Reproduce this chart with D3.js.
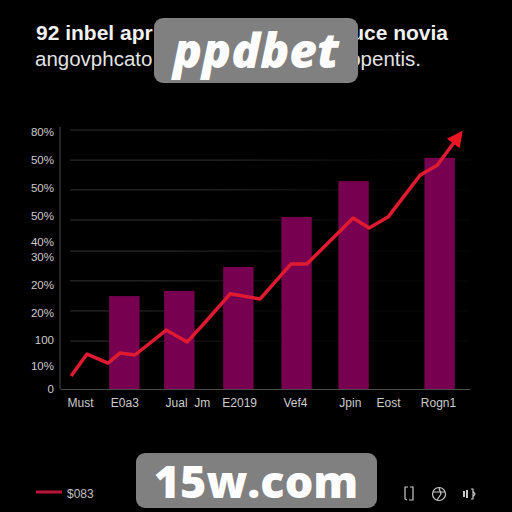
<!DOCTYPE html>
<html><head><meta charset="utf-8">
<script src="https://cdnjs.cloudflare.com/ajax/libs/d3/7.8.5/d3.min.js"></script>
<style>html,body{margin:0;padding:0;background:#000}svg{display:block}text{opacity:.99}</style></head>
<body><svg id="c" width="512" height="512"></svg>
<script>
// Data
const barValues = [28.7, 30.3, 37.7, 53.1, 64.2, 71.4];
const barSlots = [15.7, 29.1, 43.5, 57.7, 71.6, 92.6];
const gridValues = [14.8, 24.1, 33.4, 42.6, 52.2, 61.5, 70.7, 80];
const yTickValues = [0, 7.1, 15.1, 23.5, 32.1, 40.7, 45.4, 53.4, 62, 70.7, 79.4];
const yTickLabels = ["0", "10%", "100", "20%", "20%", "30%", "40%", "50%", "50%", "50%", "80%"];
const xTickValues = [4.9, 15.7, 28.3, 34.6, 43.7, 57.3, 70.7, 80, 92.2];
const xTickLabels = ["Must", "E0a3", "Jual", "Jm", "E2019", "Vef4", "Jpin", "Eost", "Rogn1"];
const lineX = [2.7, 6.6, 11.7, 14.6, 18.3, 25.9, 31, 35.9, 41.5, 48.8, 56.3, 60.2, 71.5, 75.4, 80, 87.8, 92, 96.2];
const lineY = [4, 10.8, 8, 11.1, 10.5, 18.2, 14.5, 21.3, 29.4, 27.8, 38.6, 38.6, 52.8, 49.7, 53.1, 66, 69.1, 76.3];
const legendLabel = "$083";
const titleLeft = "92 inbel apr", titleRight = "uce novia";
const subLeft = "angovphcato", subRight = "opentis.";
const badgeTop = "ppdbet", badgeBottom = "15w.com";

const svg = d3.select("#c");
const font = "'Liberation Sans', Arial, sans-serif";
const x = d3.scaleLinear().domain([0, 100]).range([60, 470]);
const y = d3.scaleLinear().domain([0, 80]).range([389, 130]);
svg.append("rect").attr("width", 512).attr("height", 512).attr("fill", "#000");

const defs = svg.append("defs");
const gr = defs.append("linearGradient").attr("id", "gf").attr("gradientUnits", "userSpaceOnUse")
  .attr("x1", 291).attr("y1", 47).attr("x2", 416).attr("y2", 130);
gr.append("stop").attr("offset", 0).attr("stop-color", "#333");
gr.append("stop").attr("offset", 1).attr("stop-color", "#080808");
const mk = defs.append("marker").attr("id", "arrow").attr("markerUnits", "userSpaceOnUse")
  .attr("markerWidth", 18).attr("markerHeight", 18).attr("refX", 2).attr("refY", 8).attr("orient", "auto").attr("viewBox","0 0 18 16");
mk.append("path").attr("d", "M0,0L16,8L0,16Z").attr("fill", "#ee1522");

// Grid
svg.append("g").selectAll("line").data(gridValues).join("line")
  .attr("x1", 70).attr("x2", x(100)).attr("y1", d => y(d)).attr("y2", d => y(d))
  .attr("stroke", "url(#gf)").attr("stroke-width", 1);

// Bars
svg.append("g").selectAll("rect").data(barValues).join("rect")
  .attr("x", (d, i) => x(barSlots[i]) - 15.2).attr("width", 30.4)
  .attr("y", d => y(d)).attr("height", d => y(0) - y(d)).attr("fill", "#780050");

// Axes
const ax = svg.append("g").attr("transform", `translate(0,${y(0)})`)
  .call(d3.axisBottom(x).tickValues(xTickValues).tickFormat((d, i) => xTickLabels[i]).tickSize(0).tickPadding(9));
ax.select(".domain").attr("stroke", "#4a4a4a");
ax.selectAll("text").attr("fill", "#cfcfcf").attr("font-family", font).attr("font-size", 12);
const ay = svg.append("g").attr("transform", `translate(${x(0)},0)`)
  .call(d3.axisLeft(y).tickValues(yTickValues).tickFormat((d, i) => yTickLabels[i]).tickSize(0).tickPadding(6));
ay.select(".domain").attr("stroke", "#4a4a4a").attr("d", `M0,${y(0)}V${y(81)}`);
ay.selectAll("text").attr("fill", "#cfcfcf").attr("font-family", font).attr("font-size", 11.5);

// Line
const line = d3.line().x(d => x(d[0])).y(d => y(d[1]));
svg.append("path").datum(lineX.map((v, i) => [v, lineY[i]])).attr("d", line)
  .attr("fill", "none").attr("stroke", "#e01a30").attr("stroke-width", 3.5)
  .attr("stroke-linejoin", "round").attr("marker-end", "url(#arrow)");

// Titles
const t = (s, px, py, size, w, anchor, fill) => svg.append("text").text(s).attr("x", px).attr("y", py)
  .attr("font-family", font).attr("font-size", size).attr("font-weight", w)
  .attr("text-anchor", anchor).attr("fill", fill);
t(titleLeft, 36, 40, 21, 700, "start", "#f4f4f4");
t(titleRight, 448, 40, 21, 700, "end", "#f4f4f4");
t(subLeft, 35, 66, 20.5, 400, "start", "#e6e6e6");
t(subRight, 421, 66, 20.5, 400, "end", "#e6e6e6");

// Legend
svg.append("line").attr("x1", 36).attr("x2", 62).attr("y1", 492).attr("y2", 492)
  .attr("stroke", "#b8163a").attr("stroke-width", 3);
t(legendLabel, 67, 497.5, 12, 400, "start", "#c4c4c4");

// Small icons
const ic = svg.append("g").attr("fill", "none").attr("stroke", "#c8c8c8").attr("stroke-width", 1.2);
ic.append("path").attr("d", "M408,487H405V499L407,500M410,487H413V500H409");
ic.append("circle").attr("cx", 439).attr("cy", 494).attr("r", 6.5);
ic.append("path").attr("d", "M433,492H445M439,488L441,494L437,500");
ic.append("path").attr("d", "M464,491V497M467,490V498").attr("stroke-width", 2);
ic.append("path").attr("d", "M471,489H473V499H471M473,491L475,494L473,497");

// Watermark badges
svg.append("rect").attr("x", 154).attr("y", 18).attr("width", 204).attr("height", 65).attr("rx", 9).attr("fill", "#808080");
t(badgeTop, 256, 68, 48, 800, "middle", "#fff").attr("font-style", "italic").attr("font-family", "'Open Sans','Liberation Sans',sans-serif");
svg.append("rect").attr("x", 136).attr("y", 453).attr("width", 241).attr("height", 55).attr("rx", 9).attr("fill", "#808080");
t(badgeBottom, 256, 498, 45, 800, "middle", "#fff").attr("font-family", "'Open Sans','Liberation Sans',sans-serif");
</script></body></html>
